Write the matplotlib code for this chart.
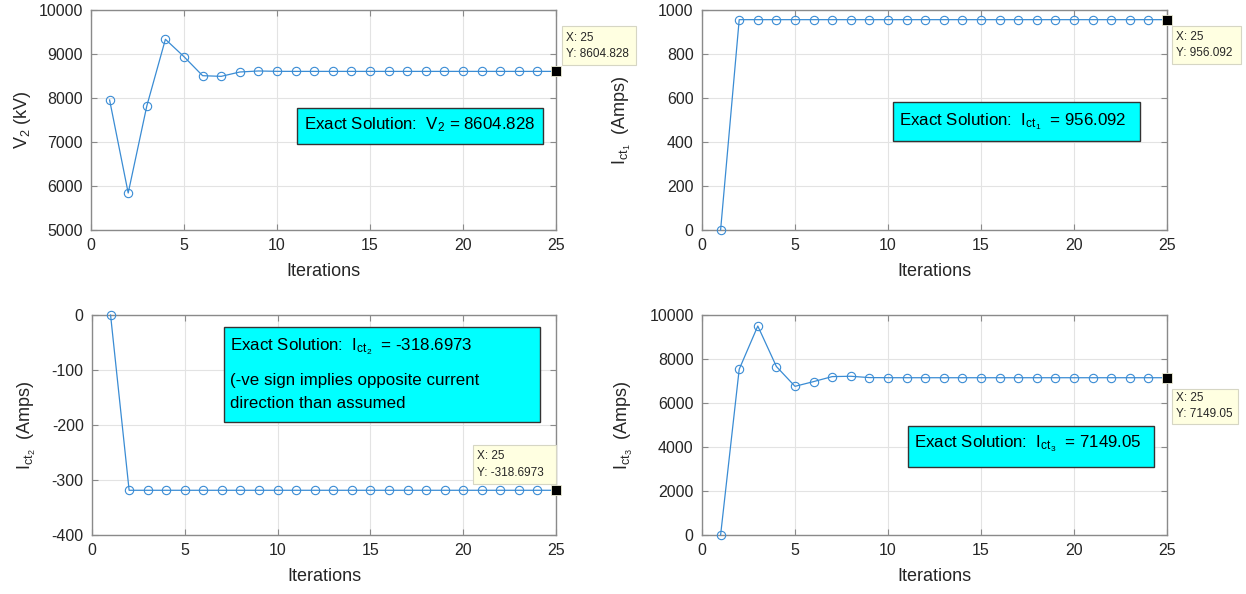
import numpy as np
import matplotlib.pyplot as plt
from matplotlib.patches import Rectangle

plt.rcParams['font.family'] = ['Liberation Sans', 'DejaVu Sans']
plt.rcParams['mathtext.fontset'] = 'custom'
plt.rcParams['mathtext.rm'] = 'Liberation Sans'
plt.rcParams['mathtext.it'] = 'Liberation Sans'
plt.rcParams['axes.unicode_minus'] = False

# iteration history of the load-flow solution
iterations = np.arange(1, 26)

v2 = [7955, 5841, 7818, 9334, 8939, 8507, 8492, 8591, 8614, 8606,
      8604.828, 8604.828, 8604.828, 8604.828, 8604.828, 8604.828, 8604.828,
      8604.828, 8604.828, 8604.828, 8604.828, 8604.828, 8604.828, 8604.828,
      8604.828]
ict1 = [0] + [956.092] * 24
ict2 = [0] + [-318.6973] * 24
ict3 = [0, 7534, 9500, 7658, 6758, 6973, 7200, 7215, 7155, 7150,
        7149.05, 7149.05, 7149.05, 7149.05, 7149.05, 7149.05, 7149.05,
        7149.05, 7149.05, 7149.05, 7149.05, 7149.05, 7149.05, 7149.05,
        7149.05]

exact_v2 = 8604.828
exact_ict1 = 956.092
exact_ict2 = -318.6973
exact_ict3 = 7149.05

line_col = '#3a8cd4'
spine_col = '#8a8a8a'
text_col = '#262626'

fig = plt.figure(figsize=(12.46, 5.94), dpi=100)
W, H = 1246, 594


def make_axes(x0, y0, x1, y1):
    return fig.add_axes([x0 / W, 1 - y1 / H, (x1 - x0) / W, (y1 - y0) / H])


def style(ax, ylim, yticks, ylabel, ypad):
    ax.set_xlim(0, 25)
    ax.set_ylim(*ylim)
    ax.set_xticks([0, 5, 10, 15, 20, 25])
    ax.set_yticks(yticks)
    ax.grid(True, color='#e3e3e3', linewidth=0.8)
    ax.set_axisbelow(True)
    for s in ax.spines.values():
        s.set_color(spine_col)
        s.set_linewidth(1.0)
    ax.tick_params(direction='in', length=4, width=0.8, color=spine_col,
                   labelsize=11.5, labelcolor=text_col, top=True, right=True,
                   pad=6)
    ax.set_xlabel('Iterations', fontsize=13, color=text_col, labelpad=7)
    ax.set_ylabel(ylabel, fontsize=13, color=text_col, labelpad=ypad)


def series(ax, y):
    ax.plot(iterations, y, '-o', color=line_col, lw=0.9, ms=6,
            mfc='none', mew=0.8, clip_on=False, zorder=3)
    ax.plot(iterations[-1], y[-1], 's', color='black', ms=7,
            mec='#f0f0d8', mew=0.6, clip_on=False, zorder=4)


def solution_box(ax, x0, y0, x1, y1, lines, tx, ys):
    ax.add_patch(Rectangle((x0, y0), x1 - x0, y1 - y0, transform=ax.transAxes,
                           facecolor='#00ffff', edgecolor='#333333', lw=1.0,
                           zorder=5, clip_on=False))
    for s, ty in zip(lines, ys):
        ax.text(tx, ty, s, transform=ax.transAxes, fontsize=12.2,
                color='black', va='center', ha='left', zorder=6)


def data_tip(ax, x0, y0, x1, y1, yval):
    ax.add_patch(Rectangle((x0, y0), x1 - x0, y1 - y0, transform=ax.transAxes,
                           facecolor='#ffffe1', edgecolor='#d6d6c4', lw=0.8,
                           zorder=7, clip_on=False))
    ax.text(x0 + 0.009, (y0 + y1) / 2, 'X: 25\nY: ' + yval,
            transform=ax.transAxes, fontsize=8.5, color='#262626',
            va='center', ha='left', linespacing=1.45, zorder=8, clip_on=False)


# V2 (top left)
ax1 = make_axes(91, 10, 556, 230)
style(ax1, (5000, 10000), np.arange(5000, 10001, 1000),
      r'$\mathrm{V_2}$ (kV)', 4)
series(ax1, v2)
solution_box(ax1, 0.443, 0.391, 0.972, 0.555,
             [r'Exact Solution:  $\mathrm{V_2}$ = %.3f' % exact_v2], 0.458, [0.48])
data_tip(ax1, 1.013, 0.75, 1.172, 0.927, '%.3f' % v2[-1])

# Ict1 (top right)
ax2 = make_axes(702, 10, 1167, 230)
style(ax2, (0, 1000), np.arange(0, 1001, 200),
      r'$\mathrm{I_{ct_1}}$  (Amps)', 18)
series(ax2, ict1)
solution_box(ax2, 0.411, 0.405, 0.942, 0.582,
             [r'Exact Solution:  $\mathrm{I_{ct_1}}$  = %.3f' % exact_ict1], 0.424, [0.49])
data_tip(ax2, 1.011, 0.755, 1.159, 0.927, '%.3f' % ict1[-1])

# Ict2 (bottom left)
ax3 = make_axes(92, 315, 556, 535)
style(ax3, (-400, 0), np.arange(-400, 1, 100),
      r'$\mathrm{I_{ct_2}}$  (Amps)', 10)
series(ax3, ict2)
solution_box(ax3, 0.284, 0.514, 0.966, 0.945,
             [r'Exact Solution:  $\mathrm{I_{ct_2}}$  = %.4f' % exact_ict2,
              '(-ve sign implies opposite current',
              'direction than assumed'], 0.297, [0.855, 0.7, 0.6])
data_tip(ax3, 0.821, 0.232, 1.0, 0.409, '%.4f' % ict2[-1])

# Ict3 (bottom right)
ax4 = make_axes(702, 315, 1167, 535)
style(ax4, (0, 10000), np.arange(0, 10001, 2000),
      r'$\mathrm{I_{ct_3}}$  (Amps)', 10)
series(ax4, ict3)
solution_box(ax4, 0.443, 0.309, 0.972, 0.495,
             [r'Exact Solution:  $\mathrm{I_{ct_3}}$  = %.2f' % exact_ict3], 0.456, [0.415])
data_tip(ax4, 1.011, 0.505, 1.153, 0.664, '%.2f' % ict3[-1])

fig.savefig('out.png', dpi=100)
